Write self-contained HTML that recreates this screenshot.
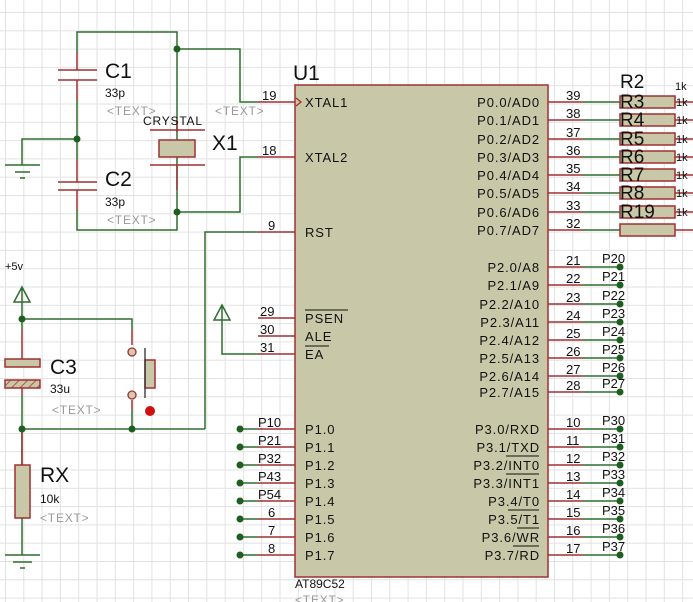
<!DOCTYPE html>
<html><head><meta charset="utf-8"><style>
html,body{margin:0;padding:0;background:#fff}
svg{display:block}
text{font-family:"Liberation Sans",sans-serif}
.pl{font-size:13px;letter-spacing:0.9px}
</style></head><body>
<svg width="693" height="602" viewBox="0 0 693 602" xmlns="http://www.w3.org/2000/svg">
<defs>
<pattern id="g" x="5" y="12" width="18.3" height="18.3" patternUnits="userSpaceOnUse">
<path d="M0 0V18.3M0 0H18.3" stroke="#e2e2e2" stroke-width="2" fill="none"/>
</pattern>
<pattern id="h" width="6" height="6" patternUnits="userSpaceOnUse" patternTransform="rotate(45)">
<rect width="6" height="6" fill="#c8c8a8"/><path d="M0 0V6" stroke="#a03030" stroke-width="1.5"/>
</pattern>
</defs>
<rect width="693" height="602" fill="url(#g)"/>
<g fill="none" stroke-width="1.5">
<g stroke="#2e6e2e">
<path d="M77 52V32H177V212M177 49H240V102H258M177 212H240V157H258M77 210V230H177V190"/>
<path d="M77 100V160M77 139H22V165"/>
<path d="M205 429V232H258"/>
<path d="M22 429H205M22 302V330M22 319H132V330M132 410V429M22 395V465M22 518V555"/>
<path d="M222 320V354H258"/>
<path d="M240 429H258M240 447H258M240 465H258M240 483H258M240 501H258M240 519H258M240 537H258M240 555H258"/>
</g>
<g stroke="#a03030">
<path d="M77 52V70M77 80V100M77 160V182M77 190V210"/>
<path d="M177 120V132M177 165V190"/>
<path d="M258 102H295M258 157H295M258 232H295M258 318H295M258 336H295M258 354H295"/>
<path d="M258 429H295M258 447H295M258 465H295M258 483H295M258 501H295M258 519H295M258 537H295M258 555H295"/>
<path d="M22 330V359M22 388V395M132 330V345M132 400V410M22 429V465"/>
<path d="M58 70H97M58 80H97M58 182H97M58 190H97M150 130H205M150 165H205"/>
</g>
<g stroke="#a03030">
<path d="M548 102H583M548 120H583M548 139H583M548 157H583M548 175H583M548 193H583M548 212H583M548 230H583"/>
<path d="M548 267H583M548 285H583M548 304H583M548 322H583M548 340H583M548 358H583M548 376H583M548 392H583"/>
<path d="M548 429H583M548 447H583M548 465H583M548 483H583M548 501H583M548 519H583M548 537H583M548 555H583"/>
<path d="M675 102H693M675 120H693M675 139H693M675 157H693M675 175H693M675 193H693M675 212H693M675 230H693"/>
</g>
<g stroke="#2e6e2e">
<path d="M583 102H620M583 120H620M583 139H620M583 157H620M583 175H620M583 193H620M583 212H620M583 230H620"/>
<path d="M583 267H620M583 285H620M583 304H620M583 322H620M583 340H620M583 358H620M583 376H620M583 392H620"/>
<path d="M583 429H620M583 447H620M583 465H620M583 483H620M583 501H620M583 519H620M583 537H620M583 555H620"/>
<path d="M5 165H40M15 172H30M20 178H25"/>
<path d="M5 555H40M13 562H32M20 568H25"/>
<path d="M22 302V287M14 302L22 287L30 302Z"/>
<path d="M222 320V305M214 320L222 305L230 320Z"/>
</g>
</g>
<rect x="295" y="85" width="253" height="492" fill="#c8c8a8" stroke="#a03030" stroke-width="1.5"/>
<path d="M296 98L301 102L296 106" fill="none" stroke="#a03030" stroke-width="1.3"/>
<rect x="159" y="140" width="36" height="17" fill="#c8c8a8" stroke="#a03030" stroke-width="1.5"/>
<rect x="5" y="359" width="35" height="8" fill="#c8c8a8" stroke="#a03030" stroke-width="1.5"/>
<rect x="5" y="380" width="35" height="8" fill="url(#h)" stroke="#a03030" stroke-width="1.5"/>
<rect x="15" y="465" width="15" height="53" fill="#c8c8a8" stroke="#a03030" stroke-width="1.5"/>
<circle cx="132" cy="352" r="4" fill="#d8c8b0" stroke="#a03030" stroke-width="1.3"/>
<circle cx="132" cy="395" r="4" fill="#d8c8b0" stroke="#a03030" stroke-width="1.3"/>
<rect x="145" y="360" width="10" height="28" fill="#c8c8a8" stroke="#a03030" stroke-width="1.5"/>
<path d="M145 348V398" stroke="#2e2e2e" stroke-width="1.3"/>
<circle cx="150" cy="411" r="5" fill="#d01010"/>
<g fill="#c8c8a8" stroke="#a03030" stroke-width="1.5">
<rect x="620" y="96" width="55" height="12"/><rect x="620" y="114" width="55" height="12"/>
<rect x="620" y="133" width="55" height="12"/><rect x="620" y="151" width="55" height="12"/>
<rect x="620" y="169" width="55" height="12"/><rect x="620" y="187" width="55" height="12"/>
<rect x="620" y="206" width="55" height="12"/><rect x="620" y="224" width="55" height="12"/>
</g>
<g fill="#1e5e1e">
<circle cx="177" cy="49" r="3.5"/><circle cx="177" cy="212" r="3.5"/><circle cx="77" cy="139" r="3.5"/>
<circle cx="22" cy="319" r="3.5"/><circle cx="22" cy="429" r="3.5"/><circle cx="132" cy="429" r="3.5"/>
<circle cx="240" cy="429" r="3.5"/><circle cx="240" cy="447" r="3.5"/><circle cx="240" cy="465" r="3.5"/><circle cx="240" cy="483" r="3.5"/>
<circle cx="240" cy="501" r="3.5"/><circle cx="240" cy="519" r="3.5"/><circle cx="240" cy="537" r="3.5"/><circle cx="240" cy="555" r="3.5"/>
<circle cx="620" cy="267" r="3.5"/><circle cx="620" cy="285" r="3.5"/><circle cx="620" cy="304" r="3.5"/><circle cx="620" cy="322" r="3.5"/>
<circle cx="620" cy="340" r="3.5"/><circle cx="620" cy="358" r="3.5"/><circle cx="620" cy="376" r="3.5"/><circle cx="620" cy="392" r="3.5"/>
<circle cx="620" cy="429" r="3.5"/><circle cx="620" cy="447" r="3.5"/><circle cx="620" cy="465" r="3.5"/><circle cx="620" cy="483" r="3.5"/>
<circle cx="620" cy="501" r="3.5"/><circle cx="620" cy="519" r="3.5"/><circle cx="620" cy="537" r="3.5"/><circle cx="620" cy="555" r="3.5"/>
</g>
<g fill="#111">
<text x="105" y="78" font-size="21">C1</text>
<text x="105" y="97" font-size="12">33p</text>
<text x="105" y="186" font-size="21">C2</text>
<text x="105" y="206" font-size="12">33p</text>
<text x="143" y="125" font-size="12" letter-spacing="0.8">CRYSTAL</text>
<text x="212" y="150" font-size="21">X1</text>
<text x="293" y="80" font-size="21">U1</text>
<text x="5" y="270" font-size="11">+5v</text>
<text x="50" y="374" font-size="21">C3</text>
<text x="50" y="393" font-size="12">33u</text>
<text x="40" y="482" font-size="21">RX</text>
<text x="40" y="503" font-size="12">10k</text>
<text x="295" y="588" font-size="12">AT89C52</text>
<text x="620" y="88" font-size="19">R2</text>
<text x="675" y="90" font-size="11">1k</text>
</g>
<g fill="#999" font-size="12" letter-spacing="0.8">
<text x="107" y="115">&lt;TEXT&gt;</text><text x="215" y="115">&lt;TEXT&gt;</text>
<text x="107" y="224">&lt;TEXT&gt;</text><text x="52" y="414">&lt;TEXT&gt;</text>
<text x="40" y="522">&lt;TEXT&gt;</text><text x="295" y="604">&lt;TEXT&gt;</text>
</g>
<g fill="#111" class="pl">
<text x="305" y="107">XTAL1</text><text x="305" y="162">XTAL2</text><text x="305" y="237">RST</text>
<text x="305" y="323">PSEN</text><text x="305" y="341">ALE</text><text x="305" y="359">EA</text>
<text x="305" y="434">P1.0</text><text x="305" y="452">P1.1</text><text x="305" y="470">P1.2</text><text x="305" y="488">P1.3</text>
<text x="305" y="506">P1.4</text><text x="305" y="524">P1.5</text><text x="305" y="542">P1.6</text><text x="305" y="560">P1.7</text>
</g>
<path d="M305 310H348M305 346H329" stroke="#111" stroke-width="1"/>
<g fill="#111" class="pl" text-anchor="end">
<text x="540" y="107">P0.0/AD0</text><text x="540" y="125">P0.1/AD1</text><text x="540" y="144">P0.2/AD2</text><text x="540" y="162">P0.3/AD3</text>
<text x="540" y="180">P0.4/AD4</text><text x="540" y="198">P0.5/AD5</text><text x="540" y="217">P0.6/AD6</text><text x="540" y="235">P0.7/AD7</text>
<text x="540" y="272">P2.0/A8</text><text x="540" y="290">P2.1/A9</text><text x="540" y="309">P2.2/A10</text><text x="540" y="327">P2.3/A11</text>
<text x="540" y="345">P2.4/A12</text><text x="540" y="363">P2.5/A13</text><text x="540" y="381">P2.6/A14</text><text x="540" y="397">P2.7/A15</text>
<text x="540" y="434">P3.0/RXD</text><text x="540" y="452">P3.1/TXD</text><text x="540" y="470">P3.2/INT0</text><text x="540" y="488">P3.3/INT1</text>
<text x="540" y="506">P3.4/T0</text><text x="540" y="524">P3.5/T1</text><text x="540" y="542">P3.6/WR</text><text x="540" y="560">P3.7/RD</text>
</g>
<path d="M506 456H539M506 474H539M508 510H539M517 528H539M513 546H539" stroke="#111" stroke-width="1"/>
<g fill="#111" font-size="13">
<text x="262" y="100">19</text><text x="262" y="155">18</text><text x="268" y="230">9</text>
<text x="260" y="316">29</text><text x="260" y="334">30</text><text x="260" y="352">31</text>
<text x="258" y="427">P10</text><text x="258" y="445">P21</text><text x="258" y="463">P32</text><text x="258" y="481">P43</text>
<text x="258" y="499">P54</text><text x="268" y="517">6</text><text x="268" y="535">7</text><text x="268" y="553">8</text>
<text x="566" y="100">39</text><text x="566" y="118">38</text><text x="566" y="137">37</text><text x="566" y="155">36</text>
<text x="566" y="173">35</text><text x="566" y="191">34</text><text x="566" y="210">33</text><text x="566" y="228">32</text>
<text x="566" y="265">21</text><text x="566" y="283">22</text><text x="566" y="302">23</text><text x="566" y="320">24</text>
<text x="566" y="338">25</text><text x="566" y="356">26</text><text x="566" y="374">27</text><text x="566" y="390">28</text>
<text x="566" y="427">10</text><text x="566" y="445">11</text><text x="566" y="463">12</text><text x="566" y="481">13</text>
<text x="566" y="499">14</text><text x="566" y="517">15</text><text x="566" y="535">16</text><text x="566" y="553">17</text>
<text x="602" y="263">P20</text><text x="602" y="281">P21</text><text x="602" y="300">P22</text><text x="602" y="318">P23</text>
<text x="602" y="336">P24</text><text x="602" y="354">P25</text><text x="602" y="372">P26</text><text x="602" y="388">P27</text>
<text x="602" y="425">P30</text><text x="602" y="443">P31</text><text x="602" y="461">P32</text><text x="602" y="479">P33</text>
<text x="602" y="497">P34</text><text x="602" y="515">P35</text><text x="602" y="533">P36</text><text x="602" y="551">P37</text>
</g>
<g fill="#111" font-size="19">
<text x="620" y="108">R3</text><text x="620" y="126">R4</text><text x="620" y="145">R5</text><text x="620" y="163">R6</text>
<text x="620" y="181">R7</text><text x="620" y="199">R8</text><text x="620" y="218">R19</text>
</g>
<g fill="#111" font-size="11">
<text x="676" y="106">1k</text><text x="676" y="124">1k</text><text x="676" y="143">1k</text><text x="676" y="161">1k</text>
<text x="676" y="179">1k</text><text x="676" y="197">1k</text><text x="676" y="216">1k</text>
</g>
</svg>
</body></html>
